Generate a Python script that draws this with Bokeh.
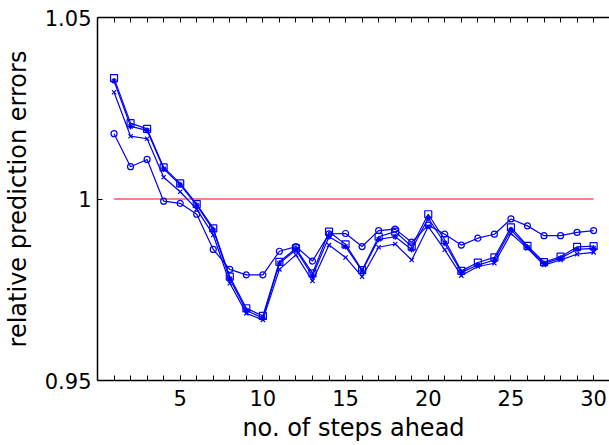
from bokeh.plotting import figure
from bokeh.models import Range1d, LinearAxis, FixedTicker
from bokeh.embed import file_html
from bokeh.resources import INLINE

# Prediction horizon (number of steps ahead)
steps = list(range(1, 31))

# Relative prediction errors for the four predictors
err_square = [1.0333, 1.0209, 1.0193, 1.0087, 1.0043, 0.9986, 0.9919, 0.9786, 0.9699, 0.9678,
              0.9827, 0.9864, 0.9795, 0.9910, 0.9875, 0.9804, 0.9896, 0.9910, 0.9869, 0.9958,
              0.9887, 0.9802, 0.9825, 0.9839, 0.9922, 0.9871, 0.9826, 0.9841, 0.9868, 0.9870]
err_star = [1.0325, 1.0200, 1.0189, 1.0083, 1.0039, 0.9983, 0.9915, 0.9780, 0.9693, 0.9672,
            0.9823, 0.9860, 0.9788, 0.9896, 0.9869, 0.9802, 0.9889, 0.9896, 0.9861, 0.9947,
            0.9878, 0.9798, 0.9818, 0.9832, 0.9915, 0.9867, 0.9822, 0.9837, 0.9861, 0.9864]
err_cross = [1.0294, 1.0173, 1.0166, 1.0060, 1.0020, 0.9972, 0.9901, 0.9768, 0.9685, 0.9667,
             0.9806, 0.9846, 0.9774, 0.9873, 0.9839, 0.9786, 0.9867, 0.9876, 0.9832, 0.9924,
             0.9860, 0.9789, 0.9814, 0.9823, 0.9905, 0.9864, 0.9818, 0.9832, 0.9848, 0.9853]
err_circle = [1.0180, 1.0089, 1.0109, 0.9994, 0.9988, 0.9958, 0.9861, 0.9806, 0.9791, 0.9791,
              0.9856, 0.9869, 0.9829, 0.9904, 0.9905, 0.9869, 0.9913, 0.9917, 0.9881, 0.9928,
              0.9903, 0.9873, 0.9892, 0.9903, 0.9945, 0.9926, 0.9899, 0.9899, 0.9908, 0.9913]

# Reference level (ratio of 1)
reference = [1.0] * len(steps)

y_ticks = [0.95, 1.0, 1.05]
x_label_ticks = [5, 10, 15, 20, 25, 30]

FONT = "DejaVu Sans"
BLUE = "#0000ff"

p = figure(width=609, height=445, output_backend="svg", toolbar_location=None,
           x_range=Range1d(0, 30.96), y_range=Range1d(0.95, 1.05),
           x_axis_location=None, y_axis_location=None,
           min_border_left=96, min_border_right=0, min_border_top=17, min_border_bottom=65)
p.outline_line_color = None
p.xgrid.visible = False
p.ygrid.visible = False
p.background_fill_color = "white"
p.border_fill_color = "white"


def style_axis(ax):
    ax.axis_line_color = "black"
    ax.axis_line_width = 1.5
    ax.major_tick_line_color = "black"
    ax.minor_tick_line_color = "black"
    ax.major_tick_in = 5
    ax.major_tick_out = 0
    ax.minor_tick_in = 5
    ax.minor_tick_out = 0
    ax.major_label_text_font = FONT
    ax.major_label_text_font_size = "21px"
    ax.major_label_text_color = "black"
    ax.axis_label_text_font = FONT
    ax.axis_label_text_font_size = "24px"
    ax.axis_label_text_font_style = "normal"
    ax.axis_label_text_color = "black"


left = LinearAxis(ticker=FixedTicker(ticks=y_ticks), axis_label="relative prediction errors")
style_axis(left)
left.major_label_overrides = {0.95: "0.95", 1.0: "1", 1.05: "1.05"}
left.major_label_standoff = 6
left.axis_label_standoff = 10
p.add_layout(left, "left")

bottom = LinearAxis(ticker=FixedTicker(ticks=x_label_ticks, minor_ticks=steps),
                    axis_label="no. of steps ahead")
style_axis(bottom)
bottom.major_label_standoff = 9
bottom.axis_label_standoff = 5
p.add_layout(bottom, "below")

# Top frame edge: unlabeled tick marks at every step
top = LinearAxis(ticker=FixedTicker(ticks=[], minor_ticks=steps))
style_axis(top)
top.major_label_standoff = 0
p.add_layout(top, "above")

# Reference line
p.line(steps, reference, line_color="#ff3030", line_alpha=0.8, line_width=1.5)

# Error curves
series = [
    (err_circle, "circle", 6),
    (err_cross, "x", 6),
    (err_star, "asterisk", 6),
    (err_square, "square", 7),
]
for vals, marker, size in series:
    p.line(steps, vals, line_color=BLUE, line_width=1.2)
    p.scatter(steps, vals, marker=marker, size=size, line_color=BLUE,
              fill_color=None, line_width=1.2)

open("out.html", "w").write(file_html(p, INLINE))
